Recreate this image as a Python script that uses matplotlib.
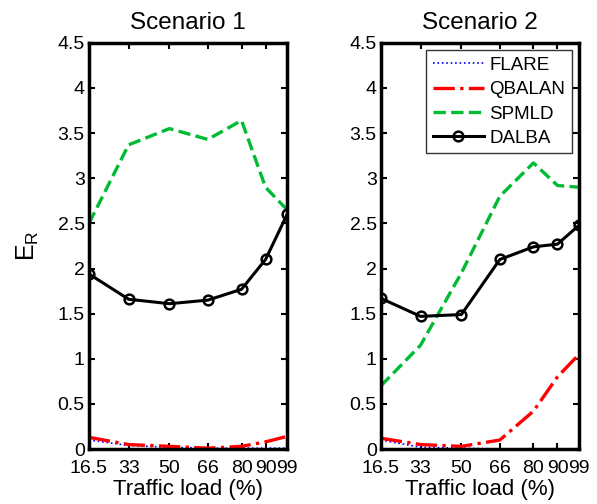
import matplotlib.pyplot as plt

load = [16.5, 33, 50, 66, 80, 90, 99]
load_labels = ['16.5', '33', '50', '66', '80', '90', '99']

# scenario 1
flare_1 = [0.10, 0.04, 0.02, 0.01, 0.01, 0.01, 0.01]
qbalan_1 = [0.13, 0.05, 0.03, 0.01, 0.03, 0.08, 0.14]
spmld_1 = [2.50, 3.37, 3.55, 3.43, 3.64, 2.90, 2.65]
dalba_1 = [1.94, 1.66, 1.61, 1.65, 1.77, 2.10, 2.60]

# scenario 2
flare_2 = [0.10, 0.02, 0.01, 0.0, 0.0, 0.0, 0.0]
qbalan_2 = [0.12, 0.05, 0.03, 0.10, 0.42, 0.80, 1.05]
spmld_2 = [0.70, 1.15, 1.95, 2.80, 3.17, 2.92, 2.90]
dalba_2 = [1.67, 1.47, 1.49, 2.10, 2.24, 2.27, 2.48]

scenarios = [
    ('Scenario 1', flare_1, qbalan_1, spmld_1, dalba_1),
    ('Scenario 2', flare_2, qbalan_2, spmld_2, dalba_2),
]

plt.rcParams['font.family'] = ['Liberation Sans', 'DejaVu Sans']

fig = plt.figure(figsize=(5.97, 5.04), dpi=100)
lefts = [0.149, 0.638]

for i, (title, flare, qbalan, spmld, dalba) in enumerate(scenarios):
    ax = fig.add_axes([lefts[i], 0.109, 0.332, 0.806])
    ax.plot(load, flare, ':', color='blue', linewidth=1.2, label='FLARE')
    ax.plot(load, qbalan, '-.', color='red', linewidth=2.4, label='QBALAN')
    ax.plot(load, spmld, '--', color='#00bb33', linewidth=2.4, label='SPMLD')
    ax.plot(load, dalba, '-o', color='black', linewidth=2.2, markersize=7,
            markerfacecolor='none', markeredgewidth=1.8, label='DALBA')

    ax.set_xlim(16.5, 99)
    ax.set_ylim(0, 4.5)
    ax.set_xticks(load)
    ax.set_xticklabels(load_labels)
    ax.set_yticks([0, 0.5, 1, 1.5, 2, 2.5, 3, 3.5, 4, 4.5])
    ax.set_yticklabels(['0', '0.5', '1', '1.5', '2', '2.5', '3', '3.5', '4', '4.5'])
    ax.tick_params(direction='in', top=True, right=True, labelsize=14,
                   length=4, width=1.5)
    ax.tick_params(axis='x', pad=8)
    ax.tick_params(axis='y', pad=3)
    for sp in ax.spines.values():
        sp.set_linewidth(2.5)

    ax.set_title(title, fontsize=17.5, pad=10)
    ax.set_xlabel('Traffic load (%)', fontsize=16, labelpad=1)
    if i == 0:
        ax.set_ylabel('$\\mathregular{E_R}$', fontsize=18, labelpad=12)
    else:
        leg = ax.legend(loc='upper right', fontsize=13.5, frameon=True,
                        fancybox=False, edgecolor='black', handlelength=2.7,
                        handletextpad=0.3, borderaxespad=0.4, labelspacing=0.38,
                        borderpad=0.35)
        leg.get_frame().set_linewidth(1.0)

fig.savefig('out.png', dpi=100)
